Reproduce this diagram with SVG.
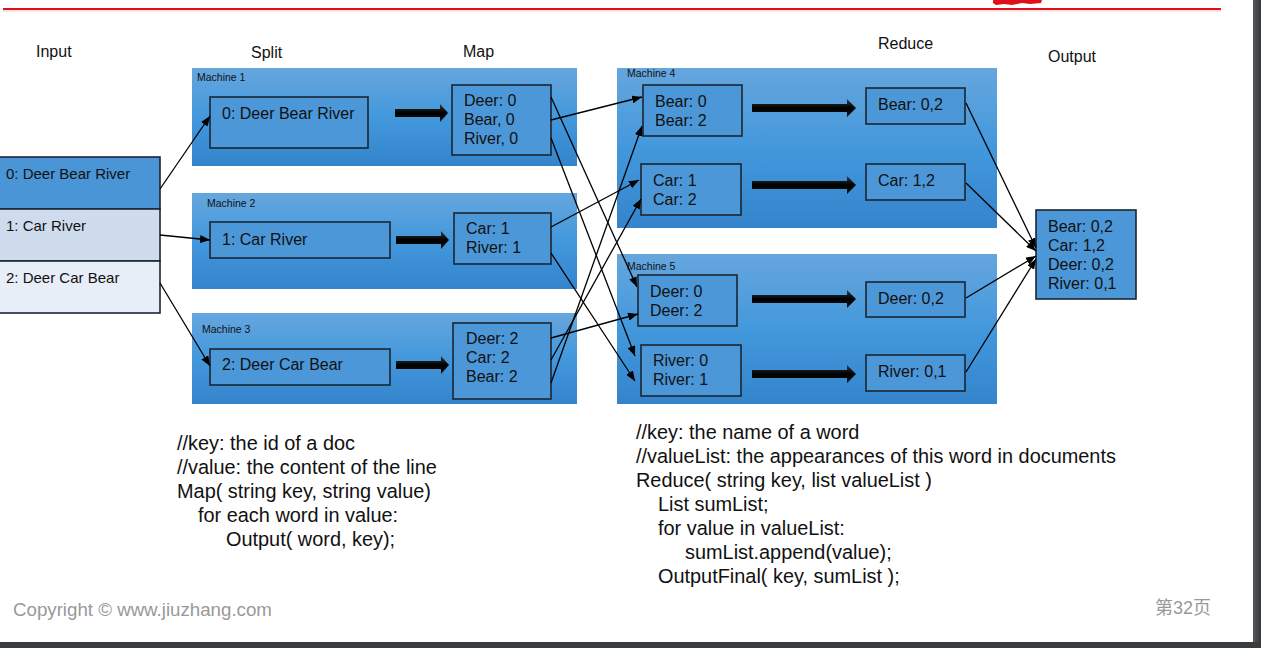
<svg xmlns="http://www.w3.org/2000/svg" width="1261" height="648" viewBox="0 0 1261 648">
<defs>
<style>
text{font-family:"Liberation Sans",Arial,sans-serif;fill:#111}
.title{font-size:16px}
.ml{font-size:10.5px}
.bx{font-size:16px}
.inp{font-size:15px}
.code{font-size:19.9px}
.foot{font-size:18.7px;fill:#999}
.mach{fill:url(#mg)}
.box{fill:#4c97d8;stroke:#1b2633;stroke-width:1.6}
.con{stroke:#000;stroke-width:1.3;fill:none;marker-end:url(#ah)}
.fat{fill:url(#ag)}
</style>
<linearGradient id="mg" x1="0" y1="0" x2="0" y2="1">
<stop offset="0" stop-color="#66a6de"/>
<stop offset="0.5" stop-color="#4398dc"/>
<stop offset="1" stop-color="#3484cc"/>
</linearGradient>
<linearGradient id="ag" x1="0" y1="0" x2="0" y2="1">
<stop offset="0" stop-color="#3a3a3a"/>
<stop offset="0.5" stop-color="#000"/>
<stop offset="1" stop-color="#111"/>
</linearGradient>
<linearGradient id="rb" x1="0" y1="0" x2="1" y2="0">
<stop offset="0" stop-color="#55585b"/>
<stop offset="1" stop-color="#36393b"/>
</linearGradient>
<marker id="ah" viewBox="0 0 10 8" refX="10" refY="4" markerWidth="10" markerHeight="8" markerUnits="userSpaceOnUse" orient="auto">
<path d="M0,0 L10,4 L0,8 z" fill="#000"/>
</marker>
</defs>

<rect x="0" y="0" width="1261" height="648" fill="#fff"/>

<g id="header">
<line x1="3" y1="9" x2="1221" y2="9" stroke="#e0101a" stroke-width="2"/>
<line x1="3" y1="11" x2="1221" y2="11" stroke="#f6c9cb" stroke-width="1"/>
<path d="M993,0 L1042,0 L1041,3 L1030,4 L1022,3 L1012,5 L1004,4 L996,5 L993,3 z" fill="#e0101a"/>
</g>

<g id="titles">
<text class="title" x="36" y="57">Input</text>
<text class="title" x="251" y="58">Split</text>
<text class="title" x="463" y="57">Map</text>
<text class="title" x="878" y="49">Reduce</text>
<text class="title" x="1048" y="62">Output</text>
</g>

<g id="machine1">
<rect class="mach" x="192" y="68" width="385" height="98"/>
<text class="ml" x="197" y="81">Machine 1</text>
</g>
<g id="machine2">
<rect class="mach" x="192" y="193" width="385" height="96"/>
<text class="ml" x="207" y="207">Machine 2</text>
</g>
<g id="machine3">
<rect class="mach" x="192" y="313" width="385" height="91"/>
<text class="ml" x="202" y="333">Machine 3</text>
</g>
<g id="machine4">
<rect class="mach" x="617" y="68" width="380" height="160"/>
<text class="ml" x="627" y="77">Machine 4</text>
</g>
<g id="machine5">
<rect class="mach" x="617" y="254" width="380" height="150"/>
<text class="ml" x="627" y="270">Machine 5</text>
</g>

<g id="input">
<rect x="-2" y="157" width="162" height="52" fill="#4a95d5" stroke="#1b2633" stroke-width="1.6"/>
<rect x="-2" y="209" width="162" height="52" fill="#cfdcee" stroke="#1b2633" stroke-width="1.6"/>
<rect x="-2" y="261" width="162" height="52" fill="#e7eef8" stroke="#1b2633" stroke-width="1.6"/>
<text class="inp" x="6" y="179">0: Deer Bear River</text>
<text class="inp" x="6" y="231">1: Car River</text>
<text class="inp" x="6" y="283">2: Deer Car Bear</text>
</g>

<g id="split1">
<rect class="box" x="210" y="97" width="158" height="51"/>
<text class="bx" x="222" y="119">0: Deer Bear River</text>
</g>
<g id="split2">
<rect class="box" x="210" y="222" width="180" height="36"/>
<text class="bx" x="222" y="245">1: Car River</text>
</g>
<g id="split3">
<rect class="box" x="210" y="349" width="180" height="36"/>
<text class="bx" x="222" y="370">2: Deer Car Bear</text>
</g>

<g id="map1">
<rect class="box" x="452" y="85" width="99" height="70"/>
<text class="bx" x="464" y="106">Deer: 0</text>
<text class="bx" x="464" y="125">Bear, 0</text>
<text class="bx" x="464" y="144">River, 0</text>
</g>
<g id="map2">
<rect class="box" x="454" y="213" width="97" height="51"/>
<text class="bx" x="466" y="234">Car: 1</text>
<text class="bx" x="466" y="253">River: 1</text>
</g>
<g id="map3">
<rect class="box" x="453" y="323" width="98" height="76"/>
<text class="bx" x="466" y="344">Deer: 2</text>
<text class="bx" x="466" y="363">Car: 2</text>
<text class="bx" x="466" y="382">Bear: 2</text>
</g>

<g id="bearIn">
<rect class="box" x="643" y="85" width="99" height="51"/>
<text class="bx" x="655" y="107">Bear: 0</text>
<text class="bx" x="655" y="126">Bear: 2</text>
</g>
<g id="carIn">
<rect class="box" x="641" y="164" width="100" height="51"/>
<text class="bx" x="653" y="186">Car: 1</text>
<text class="bx" x="653" y="205">Car: 2</text>
</g>
<g id="deerIn">
<rect class="box" x="638" y="275" width="99" height="51"/>
<text class="bx" x="650" y="297">Deer: 0</text>
<text class="bx" x="650" y="316">Deer: 2</text>
</g>
<g id="riverIn">
<rect class="box" x="641" y="345" width="100" height="51"/>
<text class="bx" x="653" y="366">River: 0</text>
<text class="bx" x="653" y="385">River: 1</text>
</g>

<g id="bearOut">
<rect class="box" x="866" y="88" width="99" height="36"/>
<text class="bx" x="878" y="110">Bear: 0,2</text>
</g>
<g id="carOut">
<rect class="box" x="866" y="164" width="99" height="36"/>
<text class="bx" x="878" y="186">Car: 1,2</text>
</g>
<g id="deerOut">
<rect class="box" x="866" y="282" width="99" height="35"/>
<text class="bx" x="878" y="304">Deer: 0,2</text>
</g>
<g id="riverOut">
<rect class="box" x="866" y="355" width="99" height="36"/>
<text class="bx" x="878" y="377">River: 0,1</text>
</g>

<g id="output">
<rect class="box" x="1036" y="210" width="100" height="89"/>
<text class="bx" x="1048" y="232">Bear: 0,2</text>
<text class="bx" x="1048" y="251">Car: 1,2</text>
<text class="bx" x="1048" y="270">Deer: 0,2</text>
<text class="bx" x="1048" y="289">River: 0,1</text>
</g>

<g id="connectors">
<path class="fat" d="M395,109 H440 V104 L448,113 L440,122 V117 H395 z"/>
<path class="fat" d="M396,236 H441 V231 L449,240 L441,249 V244 H396 z"/>
<path class="fat" d="M396,361 H441 V356 L449,365 L441,374 V369 H396 z"/>
<path class="fat" d="M752,104 H847 V99 L856,108 L847,117 V112 H752 z"/>
<path class="fat" d="M752,181 H847 V176 L856,185 L847,194 V189 H752 z"/>
<path class="fat" d="M752,295 H847 V290 L856,299 L847,308 V303 H752 z"/>
<path class="fat" d="M752,370 H847 V365 L856,374 L847,383 V378 H752 z"/>

<line class="con" x1="160" y1="189" x2="210" y2="116"/>
<line class="con" x1="160" y1="235" x2="210" y2="240"/>
<line class="con" x1="160" y1="283" x2="210" y2="366"/>

<line class="con" x1="551" y1="97" x2="637" y2="287"/>
<line class="con" x1="551" y1="120" x2="642" y2="97"/>
<line class="con" x1="551" y1="138" x2="635" y2="356"/>
<line class="con" x1="551" y1="227" x2="639" y2="180"/>
<line class="con" x1="551" y1="253" x2="635" y2="381"/>
<line class="con" x1="551" y1="338" x2="638" y2="314"/>
<line class="con" x1="551" y1="360" x2="641" y2="199"/>
<line class="con" x1="551" y1="383" x2="642" y2="126"/>

<line class="con" x1="966" y1="103" x2="1036" y2="248"/>
<line class="con" x1="966" y1="183" x2="1036" y2="251"/>
<line class="con" x1="966" y1="298" x2="1036" y2="256"/>
<line class="con" x1="966" y1="372" x2="1036" y2="259"/>
</g>

<g id="mapCode">
<text class="code" x="177" y="450">//key: the id of a doc</text>
<text class="code" x="177" y="474">//value: the content of the line</text>
<text class="code" x="177" y="498">Map( string key, string value)</text>
<text class="code" x="198" y="522">for each word in value:</text>
<text class="code" x="226" y="546">Output( word, key);</text>
</g>

<g id="reduceCode">
<text class="code" x="636" y="439">//key: the name of a word</text>
<text class="code" x="636" y="463">//valueList: the appearances of this word in documents</text>
<text class="code" x="636" y="487">Reduce( string key, list valueList )</text>
<text class="code" x="658" y="511">List sumList;</text>
<text class="code" x="658" y="535">for value in valueList:</text>
<text class="code" x="685" y="559">sumList.append(value);</text>
<text class="code" x="658" y="583">OutputFinal( key, sumList );</text>
</g>

<g id="footer">
<text class="foot" x="13" y="616">Copyright © www.jiuzhang.com</text>
<text class="foot" x="1155" y="614" style="font-family:'Liberation Sans','Noto Sans CJK SC',sans-serif;font-size:18px">第32页</text>
</g>

<g id="frame">
<rect x="1253" y="0" width="8" height="648" fill="url(#rb)"/>
<rect x="0" y="642" width="1261" height="6" fill="#3a3d3f"/>
</g>
</svg>
